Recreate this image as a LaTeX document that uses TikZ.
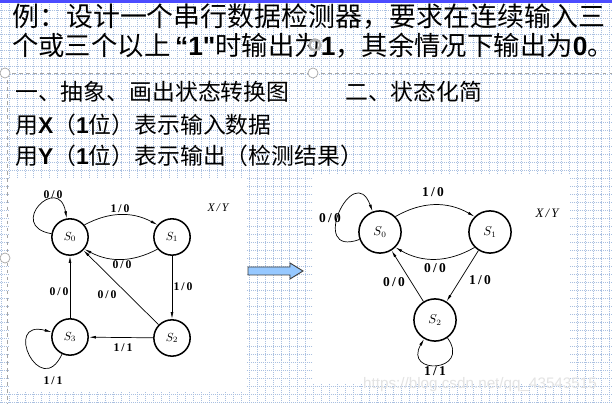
\documentclass[tikz,border=0pt]{standalone}
\usepackage{fontspec}
\setmainfont{Liberation Serif}
\newfontfamily\cjk{Noto Sans CJK SC}
\newfontfamily\wmfont{Liberation Sans}
\newcommand\lat[1]{{\wmfont\bfseries #1}}
\usetikzlibrary{arrows.meta, positioning, calc}
\definecolor{gridblue}{RGB}{170,192,225}
\definecolor{arrowblue}{RGB}{150,200,255}
\tikzset{
	state/.style = {draw, circle, line width=1.3pt, inner sep=0pt},
	smallstate/.style = {state, minimum size=31pt, font=\fontsize{10}{12}\selectfont},
	bigstate/.style = {state, minimum size=36pt, font=\fontsize{10.5}{12}\selectfont},
	arrow/.style = {-{Latex[length=6pt,width=2.4pt]}, line width=0.6pt},
	lbl/.style = {font=\bfseries\fontsize{10}{12}\selectfont},
	biglbl/.style = {font=\bfseries\fontsize{11.5}{13}\selectfont},
	title/.style = {anchor=west, inner sep=0pt, font=\cjk\fontsize{23}{26}\selectfont},
	line/.style = {anchor=west, inner sep=0pt, font=\cjk\fontsize{19.5}{22}\selectfont},
	gridline/.style = {gridblue, line width=0.5pt, dash pattern=on 0.6pt off 1.1pt},
	handle/.style = {draw=gray!70, fill=white, line width=0.6pt},
}
\begin{document}
\begin{tikzpicture}[x=0.03cm, y=-0.03cm]

	% Slide background and grid
	\useasboundingbox (0,0) rectangle (612,404);
	\fill[white] (0,0) rectangle (612,404);
	\foreach \gx in {1,9,...,609} \draw[gridline] (\gx,0) -- (\gx,404);
	\foreach \gy in {2,10,...,402} \draw[gridline] (0,\gy) -- (612,\gy);
	\fill[blue!70] (0,0) rectangle (612,3);

	% Pasted pictures
	\fill[white] (9,178) rectangle (246,392);
	\fill[white] (313,175) rectangle (570,383);

	% Text box frame
	\draw[gray!70, dashed, line width=0.6pt] (5,73) -- (612,73);
	\draw[gray!70, dashed, line width=0.6pt] (7,73) -- (7,404);

	% Heading
	\node[title] (t1) at (12,17) {例：设计一个串行数据检测器，要求在连续输入三};
	\node[title, font=\cjk\fontsize{22.5}{26}\selectfont] (t2) at (12,46) {个或三个以上\hspace{4pt}\lat{“1"}时输出为\lat{1}，其余情况下输出为\lat{0}。};
	\node[line] (h1) at (15,92) {一、抽象、画出状态转换图};
	\node[line] (h2) at (345,92) {二、状态化简};
	\node[line] (h3) at (15,125) {用\lat{X}（\lat{1}位）表示输入数据};
	\node[line] (h4) at (15,156) {用\lat{Y}（\lat{1}位）表示输出（检测结果）};

	% Handles
	\draw[handle] (5,73) circle (5);
	\draw[handle] (313,73) circle (5);
	\draw[handle] (5,258) circle (5);
	\draw[gray!60, line width=2pt] (315,45) circle (5.5);

	% Left diagram: states
	\node[smallstate] (s0) at (70,237) {$S_0$};
	\node[smallstate] (s1) at (172,237) {$S_1$};
	\node[smallstate] (s2) at (172,338) {$S_2$};
	\node[smallstate] (s3) at (70,337) {$S_3$};
	\node[font=\itshape\fontsize{10}{12}\selectfont] (xy1) at (218,208) {X\,/\,Y};

	% Left diagram: transitions
	\draw[arrow] (s0.170) to[out=170, in=100, looseness=5.4] (s0.100);
	\draw[arrow] (s0.40) to[bend left=28] (s1.140);
	\draw[arrow] (s1.220) to[bend left=28] (s0.-40);
	\draw[arrow] (s1) -- (s2);
	\draw[arrow] (s2) -- (s3);
	\draw[arrow] (s2) -- (s0);
	\draw[arrow] (s3) -- (s0);
	\draw[arrow] (s3.245) to[out=245, in=165, looseness=5.4] (s3.165);

	% Left diagram: labels
	\node[lbl] (l1) at (53,195) {0\,/\,0};
	\node[lbl] (l2) at (120,209) {1\,/\,0};
	\node[lbl] (l3) at (122,265) {0\,/\,0};
	\node[lbl] (l4) at (183,287) {1\,/\,0};
	\node[lbl] (l5) at (59,292) {0\,/\,0};
	\node[lbl] (l6) at (107,295) {0\,/\,0};
	\node[lbl] (l7) at (123,348) {1\,/\,1};
	\node[lbl] (l8) at (53,381) {1\,/\,1};

	% Block arrow
	\draw[black!75, fill=arrowblue, line width=0.8pt]
		(248,267) -- (290,267) -- (290,263) -- (303,271) -- (290,279) -- (290,275) -- (248,275) -- cycle;

	% Right diagram: states
	\node[bigstate] (r0) at (380,232) {$S_0$};
	\node[bigstate] (r1) at (490,232) {$S_1$};
	\node[bigstate] (r2) at (435,320) {$S_2$};
	\node[font=\itshape\fontsize{11}{13}\selectfont] (xy2) at (547,213) {X\,/\,Y};

	% Right diagram: transitions
	\draw[arrow] (r0.200) to[out=200, in=110, looseness=4.6] (r0.110);
	\draw[arrow] (r0.45) to[bend left=30] (r1.135);
	\draw[arrow] (r1.225) to[bend left=30] (r0.-45);
	\draw[arrow] (r1) -- (r2);
	\draw[arrow] (r2) -- (r0);
	\draw[arrow] (r2.-55) to[out=-55, in=-120, looseness=4.6] (r2.-120);

	% Right diagram: labels
	\node[biglbl] (m1) at (330,218) {0\,/\,0};
	\node[biglbl] (m2) at (433,192) {1\,/\,0};
	\node[biglbl] (m3) at (435,268) {0\,/\,0};
	\node[biglbl] (m4) at (394,282) {0\,/\,0};
	\node[biglbl] (m5) at (480,280) {1\,/\,0};
	\node[biglbl] (m6) at (435,371) {1\,/\,1};

	% Watermark
	\node[gray!22, font=\wmfont\fontsize{13}{15}\selectfont] (wm) at (480,385) {https://blog.csdn.net/qq\_43543515};

\end{tikzpicture}
\end{document}
